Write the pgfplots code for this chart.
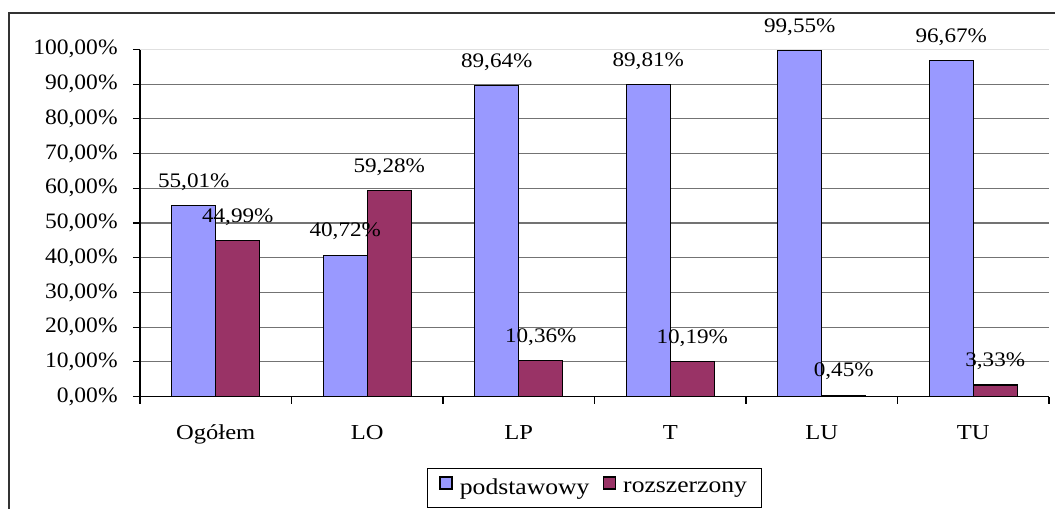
\documentclass[border=0pt]{standalone}
\usepackage{pgfplots}
\pgfplotsset{compat=1.18}
\usepackage{pgfplotstable}
\usepackage{fontspec}
\setmainfont{Liberation Serif}
\newfontfamily\tickfont[FakeStretch=1.07]{Liberation Serif}
\newfontfamily\catfont[FakeStretch=1.15]{Liberation Serif}
\newfontfamily\valfont[FakeStretch=1.12]{Liberation Serif}
\newfontfamily\legfont[FakeStretch=1.13]{Liberation Serif}

\definecolor{podst}{RGB}{153,153,255}
\definecolor{rozsz}{RGB}{153,51,102}

% udział poziomów egzaminu
\pgfplotstableread{
x pod roz
0 55.01 44.99
1 40.72 59.28
2 89.64 10.36
3 89.81 10.19
4 99.55 0.45
5 96.67 3.33
}\dane

\begin{document}
\begin{tikzpicture}
\useasboundingbox (-105pt,-84.2pt) rectangle (686.25pt,297.5pt);
\clip (-105pt,-84.2pt) rectangle (686.25pt,297.5pt);
\draw[black!80, line width=1pt] (-98.25pt,-120pt) -- (-98.25pt,287.8pt) -- (720pt,287.8pt);
\begin{axis}[
    scale only axis,
    width=681.75pt, height=260.5pt,
    xmin=-0.5, xmax=5.5, ymin=0, ymax=100,
    axis x line*=bottom, axis y line*=left,
    axis line style={black, line width=0.8pt},
    tick align=outside, major tick length=5.25pt,
    tick style={black, line width=0.8pt},
    ybar, bar width=33pt,
    xtick={-0.5,0.5,...,5.5}, xticklabels={},
    extra x ticks={0,1,2,3,4,5},
    extra x tick labels={Ogółem,LO,LP,T,LU,TU},
    extra x tick style={major tick length=0pt},
    xticklabel style={font=\catfont\fontsize{16}{19}\selectfont, anchor=base, yshift=-32.5pt},
    ytick={0,10,...,90},
    extra y ticks={100},
    extra y tick style={grid style={black!12, line width=0.8pt}},
    yticklabel={\pgfmathprintnumber[assume math mode=true, fixed, fixed zerofill, precision=2, use comma]{\tick}\%},
    yticklabel style={font=\tickfont\fontsize{16.5}{19}\selectfont, xshift=-8pt},
    ymajorgrids,
    grid style={black!55, line width=0.8pt},
    nodes near coords={\pgfmathprintnumber[assume math mode=true, fixed, fixed zerofill, precision=2, use comma]{\pgfplotspointmeta}\%},
    every node near coord/.append style={font=\valfont\fontsize{15.5}{18}\selectfont, text=black, inner sep=0pt, text depth=0pt, yshift=13.5pt},
    legend style={at={(0.5,0)}, anchor=north, yshift=-53.25pt, legend columns=2,
        draw=black, line width=0.8pt, font=\legfont\fontsize{17}{20}\selectfont,
        inner xsep=9pt, inner ysep=6pt,
        /tikz/every even column/.append style={column sep=8pt}},
    legend image code/.code={\draw[#1] (0pt,-1pt) rectangle (9pt,8pt); \path (12.5pt,3pt);},
]
    \addplot[fill=podst, draw=black, line width=0.9pt, bar shift=-16.5pt, nodes near coords=\empty] table[x=x, y=pod]{\dane};
    \addlegendentry{podstawowy}
    \addplot[fill=rozsz, draw=black, line width=0.9pt, bar shift=16.5pt, nodes near coords=\empty] table[x=x, y=roz]{\dane};
    \addlegendentry{rozszerzony}
    % etykiety wartości nad słupkami
    \addplot[draw=none, fill=none, bar shift=-16.5pt, point meta=y, forget plot] table[x=x, y=pod]{\dane};
    \addplot[draw=none, fill=none, bar shift=16.5pt, point meta=y, forget plot] table[x=x, y=roz]{\dane};
\end{axis}
\end{tikzpicture}
\end{document}
